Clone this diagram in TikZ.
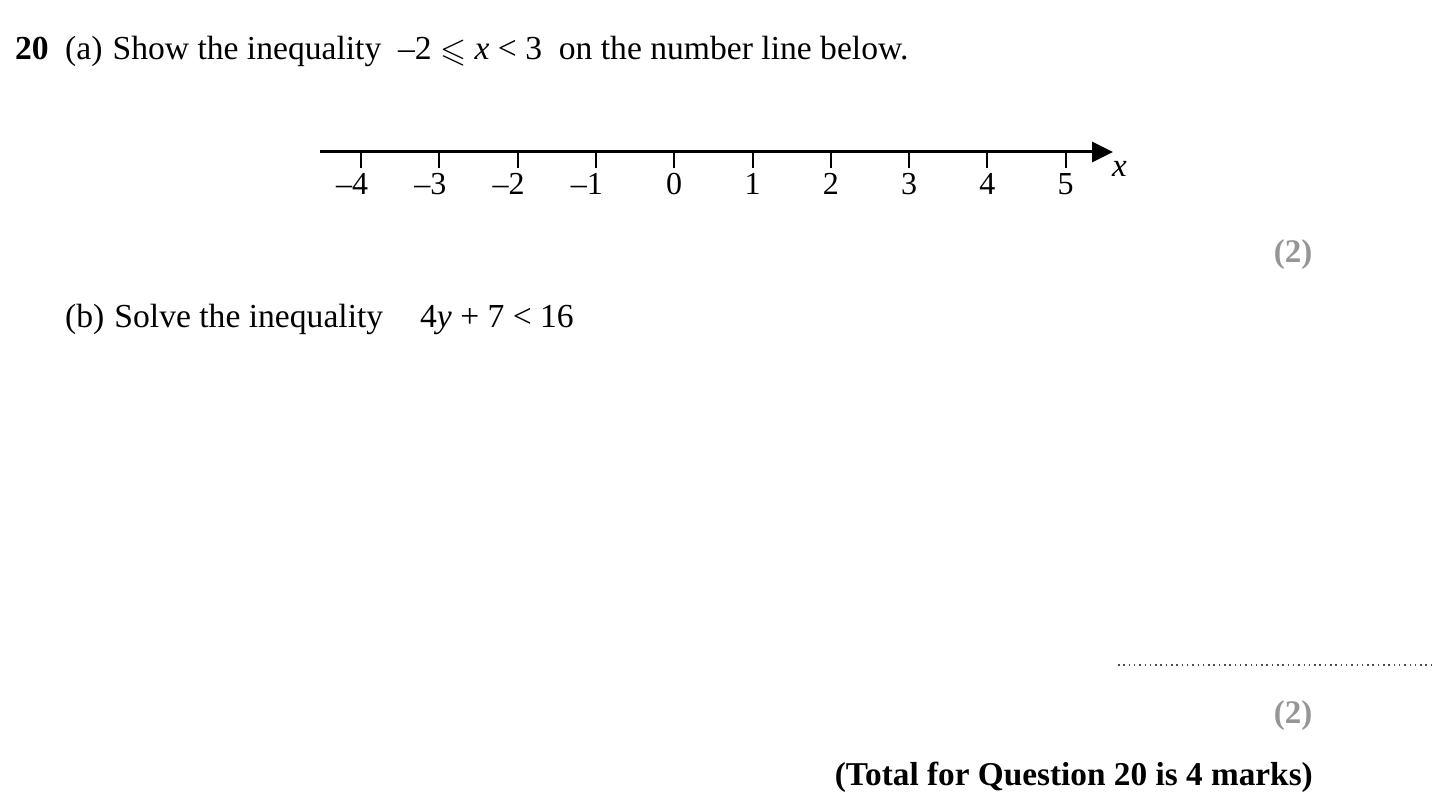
\documentclass[tikz,border=0pt]{standalone}
\usepackage{amssymb}
\usepackage{fontspec}
\setmainfont{Liberation Serif}
\usetikzlibrary{arrows.meta}
\definecolor{markgrey}{RGB}{150,150,150}
\begin{document}
\begin{tikzpicture}[x=1pt,y=-1pt,
  txt/.style={inner sep=0pt,anchor=base west,font=\fontsize{33.6}{40}\selectfont},
  ticklab/.style={inner sep=0pt,anchor=base,font=\fontsize{32}{38}\selectfont},
  marks/.style={inner sep=0pt,anchor=base,text=markgrey,font=\bfseries\fontsize{33}{40}\selectfont},
  tick/.style={line width=2pt}]
\useasboundingbox (0,0) rectangle (1446,802);
\fill[white] (0,0) rectangle (1446,802);
\node[txt,font=\bfseries\fontsize{33.6}{40}\selectfont] (qn) at (15,60) {20};
\node[txt] (q) at (65,60) {(a)\hspace{0.3em}Show the inequality\hspace{0.5em}–2 \raisebox{-0.05em}{$\leqslant$} \textit{x} < 3\hspace{0.5em}on the number line below.};
% number line
\coordinate (ls) at (320,152);
\coordinate (le) at (1113,152);
\draw[line width=3pt,-{Triangle[length=21pt,width=20pt]}] (ls) -- (le);
\foreach \v [count=\i from 0] in {–4,–3,–2,–1,0,1,2,3,4,5}{
  \coordinate (t\i) at ({361+78.3*\i},152);
  \draw[tick] (t\i) -- ++(0,16);
  \node[ticklab] (l\i) at ({361+78.3*\i-(\i<4?9:0)},195) {\v};
}
\node[inner sep=0pt,anchor=base west,font=\itshape\fontsize{33}{40}\selectfont] (xl) at (1112,177) {x};
\node[marks] (m1) at (1293,263) {(2)};
\node[txt] (b) at (65,328) {(b)\hspace{0.3em}Solve the inequality\hspace{1.1em}4\textit{y} + 7 < 16};
\coordinate (d1) at (1118,665);
\coordinate (d2) at (1432,665);
\draw[line width=1.5pt,dash pattern=on 1.5pt off 3.8pt,black!70] (d1) -- (d2);
\node[marks] (m2) at (1293,723) {(2)};
\node[inner sep=0pt,anchor=base east,font=\bfseries\fontsize{33.3}{40}\selectfont] (tot) at (1313,785) {(Total for Question 20 is 4 marks)};
\end{tikzpicture}
\end{document}
